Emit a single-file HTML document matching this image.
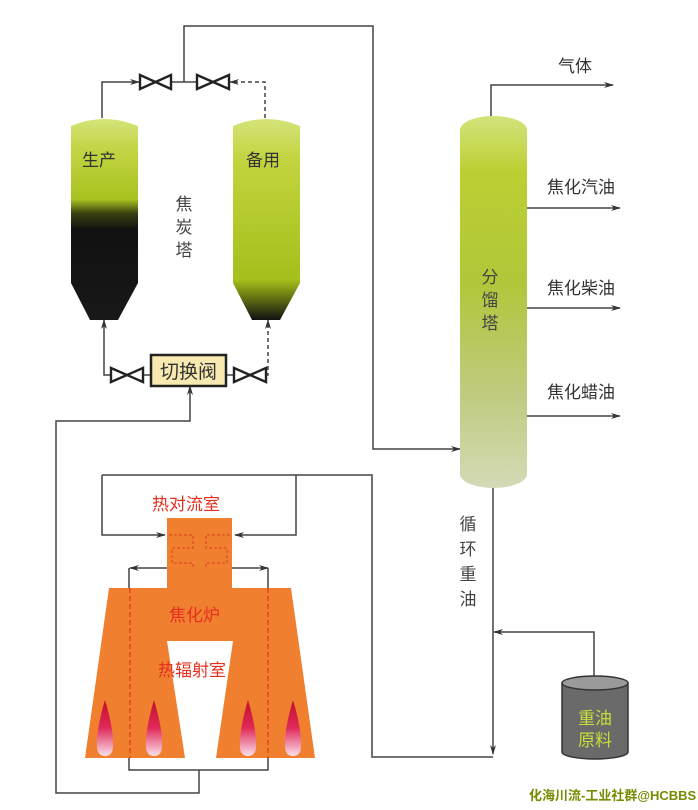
<!DOCTYPE html>
<html><head><meta charset="utf-8"><style>
html,body{margin:0;padding:0;background:#fff;}
svg{display:block;}
text{font-family:"Liberation Sans","Noto Sans CJK SC",sans-serif;}
</style></head><body>
<svg width="698" height="810" viewBox="0 0 698 810" xmlns="http://www.w3.org/2000/svg">
<defs>
<linearGradient id="gL" x1="0" y1="0" x2="0" y2="1">
<stop offset="0" stop-color="#d6e37a"/><stop offset="0.15" stop-color="#c3d545"/><stop offset="0.4" stop-color="#a9c21e"/>
<stop offset="0.47" stop-color="#3a4010"/><stop offset="0.55" stop-color="#111"/><stop offset="1" stop-color="#181818"/>
</linearGradient>
<linearGradient id="gR" x1="0" y1="0" x2="0" y2="1">
<stop offset="0" stop-color="#d6e37a"/><stop offset="0.2" stop-color="#c2d43e"/><stop offset="0.8" stop-color="#a6bf1c"/>
<stop offset="0.88" stop-color="#6b7a12"/><stop offset="1" stop-color="#111"/>
</linearGradient>
<linearGradient id="gC" x1="0" y1="0" x2="0" y2="1">
<stop offset="0" stop-color="#d5e37c"/><stop offset="0.15" stop-color="#bccf32"/><stop offset="0.45" stop-color="#b2c63a"/>
<stop offset="0.75" stop-color="#c0cb80"/><stop offset="1" stop-color="#d4dab6"/>
</linearGradient>
<linearGradient id="fl" x1="0" y1="0" x2="0" y2="1">
<stop offset="0" stop-color="#c0102a"/><stop offset="0.5" stop-color="#e02a5a"/><stop offset="1" stop-color="#fbe0ea"/>
</linearGradient>
<marker id="a" markerWidth="10" markerHeight="8" refX="9" refY="4" orient="auto" markerUnits="userSpaceOnUse">
<path d="M0,1 L10,4 L0,7 L3,4 Z" fill="#333"/></marker>
</defs>
<g fill="none" stroke="#444" stroke-width="1.5">
<path d="M102,118 V82 H139" marker-end="url(#a)"/>
<path d="M172,82 H196"/>
<path d="M184,82 V26 H373 V449 H460" marker-end="url(#a)"/>
<path d="M265,118 V82 H230" stroke-dasharray="4,3" marker-end="url(#a)"/>
<path d="M111,375 H104 V320" marker-end="url(#a)"/>
<path d="M143,375 H151"/>
<path d="M226,375 H233"/>
<path d="M266,375 H268 V320" stroke-dasharray="4,3" marker-end="url(#a)"/>
<path d="M199,770 V793 H56 V421 H190 V386" marker-end="url(#a)"/>
<path d="M491,118 V85 H613" marker-end="url(#a)"/>
<path d="M527,208 H620" marker-end="url(#a)"/>
<path d="M527,308 H620" marker-end="url(#a)"/>
<path d="M527,416 H620" marker-end="url(#a)"/>
<path d="M493,485 V754" marker-end="url(#a)"/>
<path d="M594,677 V632 H494" marker-end="url(#a)"/>
<path d="M296,475 H372 V757 H493"/>
</g>
<g fill="#fff" stroke="#222" stroke-width="2.4">
<path d="M140,75 V89 L171,75 V89 Z"/>
<path d="M197,75 V89 L229,75 V89 Z"/>
<path d="M111,368 V382 L143,368 V382 Z"/>
<path d="M234,368 V382 L266,368 V382 Z"/>
</g>
<rect x="151" y="355" width="75" height="31" fill="#f7e9b0" stroke="#222" stroke-width="2.5"/>
<text x="188.5" y="378" font-size="19" fill="#333" text-anchor="middle">切换阀</text>
<path d="M71,283 V126 Q104,112 138,126 V283 L118,320 H90 Z" fill="url(#gL)"/>
<path d="M233,283 V126 Q266,112 300,126 V283 L280,320 H252 Z" fill="url(#gR)"/>
<text x="82" y="166" font-size="17" fill="#333">生产</text>
<text x="246" y="166" font-size="17" fill="#333">备用</text>
<g font-size="17" fill="#444" text-anchor="middle"><text x="184" y="210">焦</text><text x="184" y="233">炭</text><text x="184" y="256">塔</text></g>
<rect x="460" y="116" width="67" height="372" rx="33" ry="14" fill="url(#gC)"/>
<g font-size="17" fill="#444" text-anchor="middle"><text x="490" y="283">分</text><text x="490" y="306">馏</text><text x="490" y="329">塔</text></g>
<g font-size="17" fill="#333"><text x="558" y="72">气体</text><text x="547" y="193">焦化汽油</text><text x="547" y="294">焦化柴油</text><text x="547" y="398">焦化蜡油</text></g>
<g font-size="17" fill="#444" text-anchor="middle"><text x="468" y="530">循</text><text x="468" y="555">环</text><text x="468" y="580">重</text><text x="468" y="605">油</text></g>
<path d="M562,683 V752 A33,7 0 0 0 628,752 V683 Z" fill="#6a6a6a" stroke="#333" stroke-width="1.5"/>
<ellipse cx="595" cy="683" rx="33" ry="7" fill="#9a9a9a" stroke="#333" stroke-width="1.5"/>
<g font-size="17" fill="#c9dd3a" text-anchor="middle"><text x="595" y="724">重油</text><text x="595" y="746">原料</text></g>
<path d="M167,518 H232 V588 H291 L315,758 H216 L233,641 H167 L185,758 H85 L109,588 H167 Z" fill="#f07f30"/>
<g fill="url(#fl)">
<path d="M105,700 Q96,730 97,748 Q98,756 105,756 Q112,756 113,748 Q114,730 105,700 Z"/>
<path d="M154,700 Q145,730 146,748 Q147,756 154,756 Q161,756 162,748 Q163,730 154,700 Z"/>
<path d="M248,700 Q239,730 240,748 Q241,756 248,756 Q255,756 256,748 Q257,730 248,700 Z"/>
<path d="M293,700 Q284,730 285,748 Q286,756 293,756 Q300,756 301,748 Q302,730 293,700 Z"/>
</g>
<g fill="none" stroke="#d94020" stroke-width="1" stroke-dasharray="3,2">
<path d="M169,535 H193 V548 H172 V563 H193 V568"/>
<path d="M230,535 H206 V548 H227 V563 H206 V568"/>
<path d="M130,588 V758 M268,588 V758" stroke="#e03a20" stroke-width="1.2" stroke-dasharray="5,3"/>
</g>
<g fill="none" stroke="#444" stroke-width="1.5">
<path d="M296,475 V535 H235" marker-end="url(#a)"/>
<path d="M102,475 H296 M102,475 V535 H165" marker-end="url(#a)"/>
<path d="M167,568 H130" marker-end="url(#a)"/>
<path d="M232,568 H268" marker-end="url(#a)"/>
<path d="M129,568 V588 M268,568 V588 M129,758 V770 H268 V758"/>
</g>
<text x="152" y="510" font-size="17" fill="#e53020">热对流室</text>
<text x="169" y="621" font-size="17" fill="#e53020">焦化炉</text>
<text x="158" y="676" font-size="17" fill="#e53020">热辐射室</text>
<text x="529" y="800" font-size="13" fill="#7a8a00" font-weight="bold">化海川流-工业社群@HCBBS</text>
</svg>
</body></html>
